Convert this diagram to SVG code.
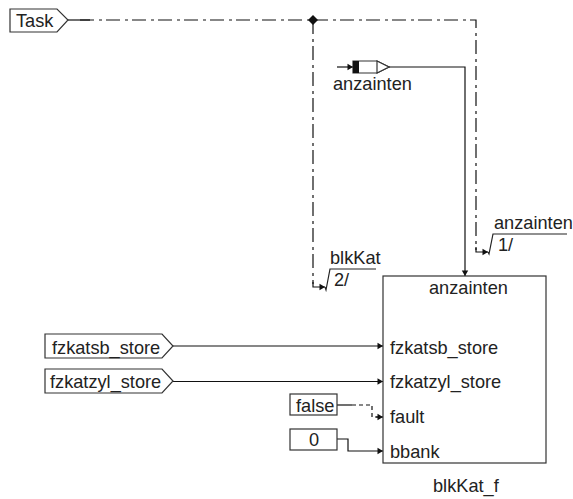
<svg xmlns="http://www.w3.org/2000/svg" width="573" height="499" viewBox="0 0 573 499">
<style>
text{font-family:"Liberation Sans",Arial,sans-serif;font-size:18.2px;fill:#222}
.s{fill:#fff;stroke:#333;stroke-width:1.2}
.c{fill:none;stroke:#111;stroke-width:1.2}
.d{stroke-dasharray:14 5 3 4}
.r{fill:none;stroke:#222;stroke-width:1.2}
</style>
<defs>
<marker id="a" markerUnits="userSpaceOnUse" markerWidth="7" markerHeight="8" refX="6" refY="4" orient="auto"><path d="M0.5 0.8L6 4L0.5 7.2Z" fill="#111"/></marker>
</defs>
<g id="connectors">
<path class="c" d="M68 20H90"/>
<path class="c d" d="M80 20H476V250"/>
<path class="c" d="M476 247V252H488" marker-end="url(#a)"/>
<path class="c d" d="M313 20V284"/>
<path class="c" d="M313 282V287H325" marker-end="url(#a)"/>
<path d="M313 15L318 20L313 25L308 20Z" fill="#111"/>
<path class="c" d="M337 67H353" marker-end="url(#a)"/>
<path class="c" d="M389 67H465V276" marker-end="url(#a)"/>
<path class="c" d="M173 346H383" marker-end="url(#a)"/>
<path class="c" d="M173 381.500H383" marker-end="url(#a)"/>
<path class="c" d="M337 405H352"/>
<path class="c" stroke-dasharray="4 3" d="M352 405H372V417H378"/>
<path class="c" d="M376 417H383" marker-end="url(#a)"/>
<path class="c" d="M337 439H348V451H383" marker-end="url(#a)"/>
</g>
<g id="task"><path class="s" d="M10 9H57L68 20L57 32H10Z"/><text x="16" y="27">Task</text></g>
<g id="anzainten-source">
<path class="s" d="M353 61H377L389 67L377 73H353Z"/>
<path class="s" d="M377 61L389 67L377 73Z"/>
<rect x="353" y="61" width="6" height="12" fill="#111"/>
<text x="333" y="90">anzainten</text>
</g>
<g id="anzainten-label"><path class="r" d="M488 252L489 254L493 234H567"/><text x="494" y="229">anzainten</text><text x="498" y="251">1/</text></g>
<g id="blkkat-label"><path class="r" d="M325 287L326 290L330 269H376"/><text x="330" y="264">blkKat</text><text x="334" y="286">2/</text></g>
<g id="fzkatsb_store"><path class="s" d="M45 334H162L173 346L162 358H45Z"/><text x="52" y="354">fzkatsb_store</text></g>
<g id="fzkatzyl_store"><path class="s" d="M45 369H162L173 381L162 393H45Z"/><text x="50" y="388">fzkatzyl_store</text></g>
<g id="false"><rect class="s" x="290" y="394" width="47" height="21"/><text x="296" y="412">false</text></g>
<g id="zero"><rect class="s" x="290" y="429" width="47" height="21"/><text x="309" y="446">0</text></g>
<g id="blkKat_f">
<rect class="s" x="383" y="276" width="163" height="187"/>
<text x="429" y="294">anzainten</text>
<text x="390" y="354">fzkatsb_store</text>
<text x="390" y="388">fzkatzyl_store</text>
<text x="390" y="423">fault</text>
<text x="390" y="458">bbank</text>
<text x="433" y="492">blkKat_f</text>
</g>
</svg>
